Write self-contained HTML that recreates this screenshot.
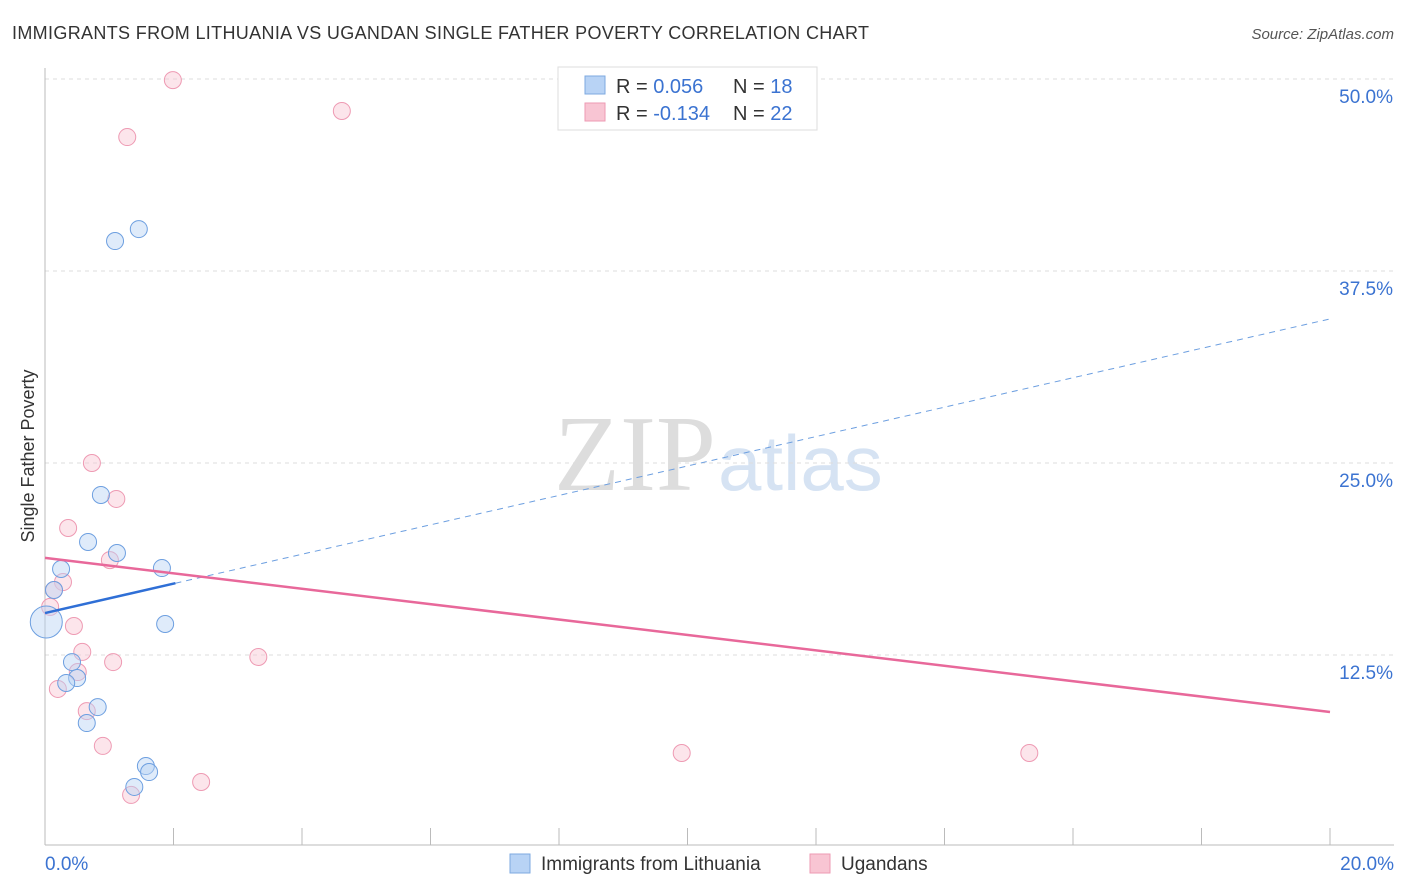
<!DOCTYPE html>
<html><head><meta charset="utf-8"><style>
body{margin:0;background:#fff;font-family:"Liberation Sans",sans-serif;}
#wrap{position:relative;width:1406px;height:892px;overflow:hidden;}
</style></head><body>
<div id="wrap">
<svg id="svg" width="1406" height="892" xmlns="http://www.w3.org/2000/svg">
<text x="12" y="39" font-size="18" fill="#333" textLength="857">IMMIGRANTS FROM LITHUANIA VS UGANDAN SINGLE FATHER POVERTY CORRELATION CHART</text>
<text x="1394" y="39" font-size="15" fill="#555" font-style="italic" text-anchor="end">Source: ZipAtlas.com</text>
<text x="34" y="456" font-size="18" fill="#333" text-anchor="middle" transform="rotate(-90 34 456)">Single Father Poverty</text>
<text x="716" y="490" font-size="108" fill="#ddd" text-anchor="end" font-family="Liberation Serif,serif">ZIP</text>
<text x="718" y="490" font-size="78" fill="#d6e3f3">atlas</text>
<g id="grid"></g><g id="marks"></g>
<g>
<rect x="558" y="67" width="259" height="63" fill="#fff" stroke="#ddd"/>
<rect x="585" y="76" width="20" height="18" fill="#b8d3f5" stroke="#7ea9e0"/>
<text x="616" y="93" font-size="20" fill="#333">R = <tspan fill="#3b73d1">0.056</tspan></text>
<text x="733" y="93" font-size="20" fill="#333">N = <tspan fill="#3b73d1">18</tspan></text>
<rect x="585" y="103" width="20" height="18" fill="#f8c5d3" stroke="#ee9ab3"/>
<text x="616" y="120" font-size="20" fill="#333">R = <tspan fill="#3b73d1">-0.134</tspan></text>
<text x="733" y="120" font-size="20" fill="#333">N = <tspan fill="#3b73d1">22</tspan></text>
</g>
<g>
<rect x="510" y="854" width="20" height="19" fill="#b8d3f5" stroke="#7ea9e0"/>
<text x="541" y="870" font-size="19" fill="#333">Immigrants from Lithuania</text>
<rect x="810" y="854" width="20" height="19" fill="#f8c5d3" stroke="#ee9ab3"/>
<text x="841" y="870" font-size="19" fill="#333">Ugandans</text>
</g>
</svg>
</div>
<script>
const xTicks=[0,2,4,6,8,10,12,14,16,18,20];
const yTicks=[12.5,25,37.5,50];
const yTickLabels=["12.5%","25.0%","37.5%","50.0%"];
const xTickLabels=["0.0%","20.0%"];
const blueX=[1.09,1.46,0.87,0.67,1.12,0.25,1.82,0.14,1.87,0.02,0.42,0.5,0.33,0.82,0.65,1.57,1.62,1.39];
const blueY=[39.45,40.23,22.92,19.86,19.14,18.1,18.16,16.73,14.52,14.65,12.04,11.0,10.68,9.11,8.07,5.27,4.88,3.91];
const pinkX=[1.99,4.62,1.28,0.73,1.11,0.36,1.01,0.28,0.14,0.08,0.45,0.58,0.51,1.06,3.32,0.2,0.65,0.9,9.91,15.32,2.43,1.34];
const pinkY=[49.93,47.92,46.22,25.0,22.66,20.77,18.68,17.25,16.73,15.63,14.39,12.7,11.39,12.04,12.37,10.29,8.85,6.58,6.12,6.12,4.23,3.39];
const blueTrend=[15.23,34.38];
const pinkTrend=[18.82,8.79];
const NS="http://www.w3.org/2000/svg";
const sx=v=>45+v*64.25, sy=v=>847-v*15.36;
function mk(t,a,p){const e=document.createElementNS(NS,t);for(const k in a)e.setAttribute(k,a[k]);p.appendChild(e);return e;}
const grid=document.getElementById('grid'),marks=document.getElementById('marks');
yTicks.forEach((v,i)=>{
 const l=mk('line',{x1:45,x2:1394,y1:sy(v),y2:sy(v),stroke:'#ddd','stroke-dasharray':'4,4'},grid);
 
 
 const t=mk('text',{x:1393,y:sy(v)+24,'font-size':19,fill:'#3b73d1','text-anchor':'end'},grid);
 t.textContent=yTickLabels[i];
 
 
});
const ax=mk('line',{x1:45,x2:1394,y1:845,y2:845,stroke:'#bbb'},grid);


const ay=mk('line',{x1:45,x2:45,y1:68,y2:845,stroke:'#bbb'},grid);


xTicks.forEach(v=>{const l=mk('line',{x1:sx(v),x2:sx(v),y1:828,y2:845,stroke:'#bbb'},grid);
 
 });
[[0,'start',45],[20,'end',1394]].forEach((d,i)=>{const t=mk('text',{x:d[2],y:870,'font-size':19,fill:'#3b73d1','text-anchor':d[1]},grid);t.textContent=xTickLabels[i];
 
 });
function pts(X,Y,fill,stroke,name){X.forEach((x,i)=>{const r=(name==='blue-point'&&i===9)?16:8.5;
 const c=mk('circle',{cx:sx(x),cy:sy(Y[i]),r:r,fill:fill,'fill-opacity':0.45,stroke:stroke,'stroke-width':1},marks);
 
 });}
pts(pinkX,pinkY,'#f8c5d3','#ee9ab3','pink-point');
pts(blueX,blueY,'#b8d3f5','#6d9fe0','blue-point');
const bs=(blueTrend[1]-blueTrend[0])/20;
const b1=mk('line',{x1:sx(0),y1:sy(blueTrend[0]),x2:sx(2.03),y2:sy(blueTrend[0]+bs*2.03),stroke:'#2f6fd6','stroke-width':2.5},marks);


const b2=mk('line',{x1:sx(2.03),y1:sy(blueTrend[0]+bs*2.03),x2:sx(20),y2:sy(blueTrend[1]),stroke:'#6d9fe0','stroke-width':1,'stroke-dasharray':'6,5'},marks);


const p1=mk('line',{x1:sx(0),y1:sy(pinkTrend[0]),x2:sx(20),y2:sy(pinkTrend[1]),stroke:'#e8689a','stroke-width':2.5},marks);


</script>
</body></html>
